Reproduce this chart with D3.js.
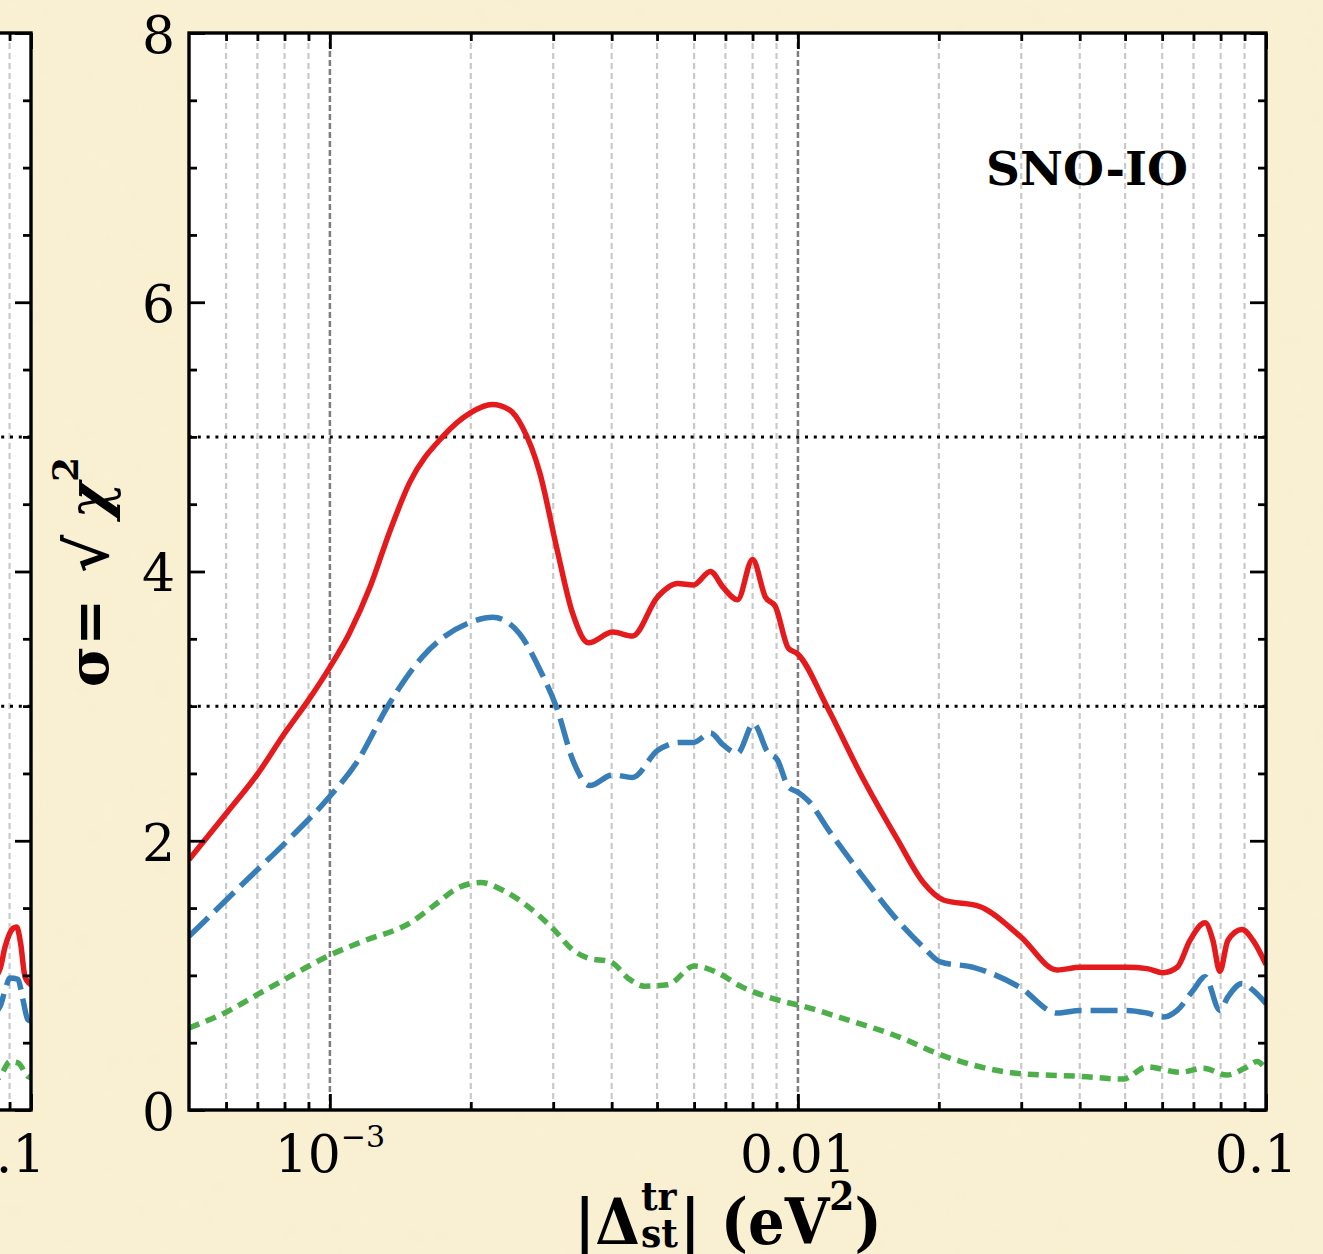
<!DOCTYPE html>
<html>
<head>
<meta charset="utf-8">
<script src="https://cdn.jsdelivr.net/npm/d3@7/dist/d3.min.js"></script>
<style>
  html, body { margin: 0; padding: 0; background: #f9efd0; }
  svg { display: block; }
  text { font-family: "DejaVu Serif", serif; fill: #000; }
</style>
</head>
<body>
<svg id="chart" width="1323" height="1254"></svg>
<script>
// ----------------------
// data
// ----------------------
// right panel, SNO-IO: [|Delta m^2|, sigma]
const redSolid = [
  [5.0e-4, 1.86], [6.03e-4, 2.21], [7.02e-4, 2.50], [8.01e-4, 2.80], [9.02e-4, 3.05],
  [1.0e-3, 3.29], [1.10e-3, 3.54], [1.22e-3, 3.89], [1.34e-3, 4.29], [1.48e-3, 4.66],
  [1.74e-3, 5.00], [2.00e-3, 5.18], [2.22e-3, 5.24], [2.42e-3, 5.20], [2.58e-3, 5.07],
  [2.81e-3, 4.73], [3.05e-3, 4.18], [3.30e-3, 3.69], [3.57e-3, 3.47], [4.02e-3, 3.55],
  [4.43e-3, 3.52], [5.01e-3, 3.81], [5.53e-3, 3.91], [5.98e-3, 3.90], [6.50e-3, 4.00],
  [6.93e-3, 3.88], [7.43e-3, 3.79], [8.00e-3, 4.09], [8.52e-3, 3.81], [8.95e-3, 3.74],
  [9.54e-3, 3.43], [9.97e-3, 3.39], [0.01156, 2.99], [0.01359, 2.50], [0.01631, 2.01],
  [0.01853, 1.69], [0.02045, 1.56], [0.02452, 1.51], [0.02985, 1.29], [0.0358, 1.04],
  [0.0401, 1.06], [0.0505, 1.06], [0.0557, 1.05], [0.0603, 1.02], [0.0646, 1.06],
  [0.0688, 1.26], [0.0741, 1.39], [0.0770, 1.26], [0.0797, 1.03], [0.0829, 1.26],
  [0.0889, 1.34], [0.0938, 1.26], [0.1, 1.08]
];
const blueDashed = [
  [5.0e-4, 1.29], [6.65e-4, 1.71], [8.22e-4, 2.02], [1.0e-3, 2.33], [1.14e-3, 2.58],
  [1.34e-3, 3.02], [1.58e-3, 3.37], [1.99e-3, 3.62], [2.23e-3, 3.66], [2.54e-3, 3.54],
  [2.81e-3, 3.27], [3.05e-3, 2.99], [3.32e-3, 2.58], [3.59e-3, 2.41], [4.02e-3, 2.49],
  [4.43e-3, 2.47], [5.01e-3, 2.67], [5.61e-3, 2.73], [5.98e-3, 2.73], [6.50e-3, 2.80],
  [6.93e-3, 2.71], [7.43e-3, 2.65], [8.04e-3, 2.87], [8.61e-3, 2.66], [9.04e-3, 2.60],
  [9.54e-3, 2.40], [0.01, 2.36], [0.0105, 2.30], [0.01173, 2.06], [0.01379, 1.73],
  [0.01631, 1.41], [0.01853, 1.21], [0.02015, 1.10], [0.02369, 1.06], [0.02985, 0.91],
  [0.0358, 0.72], [0.0401, 0.74], [0.0505, 0.74], [0.0557, 0.72], [0.0603, 0.69],
  [0.0646, 0.74], [0.0699, 0.89], [0.0741, 0.99], [0.0797, 0.74], [0.0829, 0.84],
  [0.0889, 0.94], [0.0938, 0.89], [0.1, 0.79]
];
const greenDotted = [
  [5.0e-4, 0.61], [6.03e-4, 0.73], [7.02e-4, 0.86], [8.01e-4, 0.97], [9.02e-4, 1.07],
  [1.0e-3, 1.15], [1.17e-3, 1.25], [1.50e-3, 1.40], [1.67e-3, 1.52], [1.88e-3, 1.65],
  [2.10e-3, 1.69], [2.35e-3, 1.63], [2.63e-3, 1.52], [3.01e-3, 1.34], [3.30e-3, 1.19],
  [3.55e-3, 1.13], [3.98e-3, 1.10], [4.37e-3, 0.97], [4.70e-3, 0.92], [5.27e-3, 0.93],
  [6.01e-3, 1.07], [6.73e-3, 1.02], [7.54e-3, 0.92], [8.44e-3, 0.85], [9.45e-3, 0.80],
  [0.01, 0.78], [0.01276, 0.67], [0.0168, 0.53], [0.01985, 0.42], [0.02985, 0.27],
  [0.0401, 0.25], [0.0495, 0.23], [0.0557, 0.32], [0.0655, 0.28], [0.0734, 0.31],
  [0.0825, 0.26], [0.0911, 0.32], [0.0957, 0.36], [0.1, 0.30]
];

// left panel (only its right end shows)
const leftRed = [[0.0818, 0.95], [0.0859, 1.05], [0.0880, 1.21], [0.0916, 1.35], [0.0932, 1.36], [0.0950, 1.24], [0.0971, 0.99], [0.1, 0.93]];
const leftBlue = [[0.0818, 0.70], [0.0859, 0.77], [0.0880, 0.89], [0.0902, 0.98], [0.0938, 0.97], [0.0961, 0.82], [0.0985, 0.67], [0.1, 0.66]];
const leftGreen = [[0.0818, 0.20], [0.0859, 0.25], [0.0902, 0.36], [0.0938, 0.35], [0.0985, 0.25], [0.1, 0.24]];

const xDomain = [5e-4, 0.1];
const yDomain = [0, 8];
const yMajorTicks = [0, 2, 4, 6, 8];
const xMajorTicks = [1e-3, 0.01, 0.1];
const xTickLabels = [["10", "\u22123"], ["0.01", ""], ["0.1", ""]];
const refLevels = [3, 5];
const panelLabel = "SNO-IO";

// ----------------------
// layout
// ----------------------
const svg = d3.select("#chart");
const W = +svg.attr("width"), H = +svg.attr("height");
const plot = { left: 189, right: 1266, top: 33, bottom: 1110 };
const panelShift = 1235;   // left panel is the same frame moved left

const x = d3.scaleLog().domain(xDomain).range([plot.left, plot.right]);
const y = d3.scaleLinear().domain(yDomain).range([plot.bottom, plot.top]);

// parchment background
const defs = svg.append("defs");
const paper = defs.append("filter").attr("id", "paper").attr("x", 0).attr("y", 0).attr("width", 1).attr("height", 1);
paper.append("feTurbulence").attr("type", "fractalNoise").attr("baseFrequency", 0.04).attr("numOctaves", 3).attr("seed", 4);
paper.append("feColorMatrix").attr("type", "matrix")
  .attr("values", "0 0 0 0 0.85  0 0 0 0 0.78  0 0 0 0 0.6  0 0 0 0.16 0");
paper.append("feComposite").attr("operator", "in").attr("in2", "SourceGraphic");

svg.append("rect").attr("width", W).attr("height", H).attr("fill", "#faf0d2");
svg.append("rect").attr("width", W).attr("height", H).attr("fill", "#fff").attr("filter", "url(#paper)");

defs.append("clipPath").attr("id", "plotClip")
  .append("rect")
  .attr("x", plot.left).attr("y", plot.top)
  .attr("width", plot.right - plot.left).attr("height", plot.bottom - plot.top);

const line = d3.line()
  .x(d => x(d[0]))
  .y(d => y(d[1]))
  .curve(d3.curveMonotoneX);

const minorX = x.ticks().filter(v => !xMajorTicks.some(m => Math.abs(m - v) / m < 1e-6) && v > xDomain[0] * 1.001);
const minorY = y.ticks(16).filter(v => !yMajorTicks.includes(v));

function drawPanel(offset, curves, withLabels, lastLabelShift) {
  const g = svg.append("g").attr("transform", `translate(${offset},0)`);

  g.append("rect")
    .attr("x", plot.left).attr("y", plot.top)
    .attr("width", plot.right - plot.left).attr("height", plot.bottom - plot.top)
    .attr("fill", "#fff");

  // grid
  g.selectAll("line.gminor").data(minorX).join("line")
    .attr("class", "gminor")
    .attr("x1", d => x(d)).attr("x2", d => x(d))
    .attr("y1", plot.top).attr("y2", plot.bottom)
    .attr("stroke", "#c9c9c9").attr("stroke-width", 2.2).attr("stroke-dasharray", "6,4");
  g.selectAll("line.gmajor").data(xMajorTicks.slice(0, 2)).join("line")
    .attr("class", "gmajor")
    .attr("x1", d => x(d)).attr("x2", d => x(d))
    .attr("y1", plot.top).attr("y2", plot.bottom)
    .attr("stroke", "#7d7d7d").attr("stroke-width", 2.5).attr("stroke-dasharray", "6,3");

  // reference levels
  g.selectAll("line.ref").data(refLevels).join("line")
    .attr("class", "ref")
    .attr("x1", plot.left).attr("x2", plot.right)
    .attr("y1", d => y(d)).attr("y2", d => y(d))
    .attr("stroke", "#000").attr("stroke-width", 3).attr("stroke-dasharray", "3,5.8");

  // curves
  const cg = g.append("g").attr("clip-path", "url(#plotClip)");
  cg.append("path").datum(curves.green).attr("d", line)
    .attr("fill", "none").attr("stroke", "#4daf4a").attr("stroke-width", 5.5)
    .attr("stroke-dasharray", "11,7");
  cg.append("path").datum(curves.blue).attr("d", line)
    .attr("fill", "none").attr("stroke", "#377eb8").attr("stroke-width", 5.5)
    .attr("stroke-dasharray", "27,9");
  cg.append("path").datum(curves.red).attr("d", line)
    .attr("fill", "none").attr("stroke", "#e41a1c").attr("stroke-width", 5.5)
    .attr("stroke-linejoin", "round");

  // ticks on all four sides, pointing in
  const tickAxes = [
    [d3.axisBottom(x).tickValues(xMajorTicks).tickSize(-16), `translate(0,${plot.bottom})`],
    [d3.axisBottom(x).tickValues(minorX).tickSize(-8), `translate(0,${plot.bottom})`],
    [d3.axisTop(x).tickValues(xMajorTicks).tickSize(-16), `translate(0,${plot.top})`],
    [d3.axisTop(x).tickValues(minorX).tickSize(-8), `translate(0,${plot.top})`],
    [d3.axisLeft(y).tickValues(yMajorTicks).tickSize(-16), `translate(${plot.left},0)`],
    [d3.axisLeft(y).tickValues(minorY).tickSize(-8), `translate(${plot.left},0)`],
    [d3.axisRight(y).tickValues(yMajorTicks).tickSize(-16), `translate(${plot.right},0)`],
    [d3.axisRight(y).tickValues(minorY).tickSize(-8), `translate(${plot.right},0)`]
  ];
  tickAxes.forEach(([ax, tr]) => {
    const a = g.append("g").attr("transform", tr).call(ax.tickFormat(""));
    a.select(".domain").remove();
    a.selectAll(".tick line").attr("stroke", "#000").attr("stroke-width", 2.8);
  });

  // frame
  g.append("rect")
    .attr("x", plot.left).attr("y", plot.top)
    .attr("width", plot.right - plot.left).attr("height", plot.bottom - plot.top)
    .attr("fill", "none").attr("stroke", "#000").attr("stroke-width", 3.4);

  // x tick labels
  const xl = g.selectAll("text.xtick").data(xMajorTicks).join("text")
    .attr("class", "xtick")
    .attr("x", (d, i) => x(d) + (i === xMajorTicks.length - 1 ? lastLabelShift : 0))
    .attr("y", 1172)
    .attr("text-anchor", "middle")
    .style("font-size", "52px");
  xl.append("tspan").text((d, i) => xTickLabels[i][0]);
  xl.filter((d, i) => xTickLabels[i][1] !== "")
    .append("tspan").attr("dy", -25).style("font-size", "30px")
    .text((d, i) => xTickLabels[i][1]);

  if (withLabels) {
    g.selectAll("text.ytick").data(yMajorTicks).join("text")
      .attr("class", "ytick")
      .attr("x", plot.left - 14)
      .attr("y", d => y(d))
      .attr("dy", "0.38em")
      .attr("text-anchor", "end")
      .style("font-size", "52px")
      .text(d => d);

    g.append("text")
      .attr("x", 1087).attr("y", 185)
      .attr("text-anchor", "middle")
      .style("font-size", "47px").style("font-weight", "bold")
      .text(panelLabel);
  }
  return g;
}

drawPanel(-panelShift, { red: leftRed, blue: leftBlue, green: leftGreen }, false, -27);
drawPanel(0, { red: redSolid, blue: blueDashed, green: greenDotted }, true, -10);

// ----------------------
// axis titles, built piece by piece
// ----------------------

// x title: |Δ^tr_st| (eV^2)
const xTitle = svg.append("g");
{
  let cx = 0;
  const add = (str, size, dy, at) => {
    const t = xTitle.append("text")
      .attr("x", at).attr("y", dy)
      .style("font-size", size + "px").style("font-weight", "bold")
      .style("font-family", "'DejaVu Serif Condensed', 'DejaVu Serif', serif")
      .style("font-stretch", "condensed")
      .text(str);
    return t.node().getComputedTextLength();
  };
  cx += add("|\u0394", 64, 0, cx);
  const w1 = add("tr", 40, -34, cx + 1);
  const w2 = add("st", 40, 3, cx + 1);
  cx += Math.max(w1, w2) + 3;
  cx += add("| (eV", 64, 0, cx);
  cx += add("2", 40, -34, cx);
  cx += add(")", 64, 0, cx);
  xTitle.attr("transform", `translate(${728 - cx / 2},1244)`);
}

// y title: σ= √ χ^2 (rotated)
const yTitle = svg.append("g");
{
  let cx = 0;
  const add = (str, size, dy, italic, gapAfter) => {
    const t = yTitle.append("text")
      .attr("x", cx).attr("y", dy)
      .style("font-size", size + "px").style("font-weight", "bold")
      .style("font-style", italic ? "italic" : "normal")
      .text(str);
    cx += t.node().getComputedTextLength() + gapAfter;
  };
  add("\u03c3=", 56, 0, false, 26);
  add("\u221a", 58, 0, false, 16);
  add("\u03c7", 56, 0, true, 0);
  add("2", 36, -30, false, 0);
  yTitle.attr("transform", `translate(108,${572 + cx / 2}) rotate(-90)`);
}
</script>
</body>
</html>
